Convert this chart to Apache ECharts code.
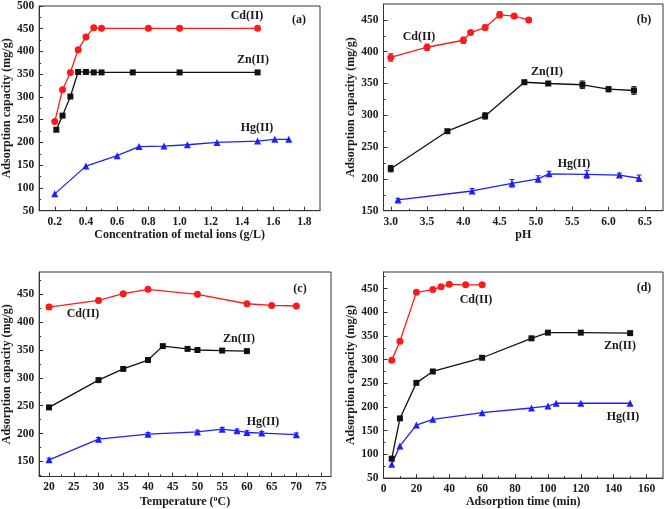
<!DOCTYPE html>
<html>
<head>
<meta charset="utf-8">
<script src="https://cdn.jsdelivr.net/npm/echarts@6/dist/echarts.min.js"></script>
<style>
  html, body { margin: 0; padding: 0; background: #fff; }
  #chart { width: 664px; height: 509px; }
</style>
</head>
<body>
<div id="chart"></div>
<script>
// (a) concentration of metal ions
var aCdX = [0.2, 0.25, 0.3, 0.35, 0.4, 0.45, 0.5, 0.8, 1.0, 1.5]
var aCdY = [246, 316, 354, 404, 432, 452, 451, 451, 451, 451]
var aZnX = [0.21, 0.25, 0.3, 0.35, 0.4, 0.45, 0.5, 0.7, 1.0, 1.5]
var aZnY = [228, 259, 301, 355, 355, 354, 354, 354, 354, 354]
var aHgX = [0.2, 0.4, 0.6, 0.74, 0.9, 1.05, 1.24, 1.5, 1.61, 1.7]
var aHgY = [87, 148, 171, 191, 192, 195, 200, 203, 207, 207]
var aXTicks = [0.2, 0.4, 0.6, 0.8, 1.0, 1.2, 1.4, 1.6, 1.8]
var aYTicks = [50, 100, 150, 200, 250, 300, 350, 400, 450, 500]

// (b) pH
var bCdX = [3.0, 3.5, 4.0, 4.1, 4.3, 4.5, 4.7, 4.9]
var bCdY = [391, 407, 418, 430, 438, 458, 456, 450]
var bCdErr = [6, 5, 5, 3, 4, 5, 3, 3]
var bZnX = [3.0, 3.78, 4.3, 4.84, 5.17, 5.64, 6.0, 6.35]
var bZnY = [216, 275, 299, 352, 350, 348, 341, 339]
var bZnErr = [5, 2, 5, 3, 3, 6, 4, 6]
var bHgX = [3.1, 4.12, 4.67, 5.03, 5.18, 5.7, 6.15, 6.42]
var bHgY = [167, 181, 193, 200, 208, 207, 206, 201]
var bHgErr = [2, 4, 6, 5, 4, 6, 3, 5]
var bXTicks = [3.0, 3.5, 4.0, 4.5, 5.0, 5.5, 6.0, 6.5]
var bYTicks = [150, 200, 250, 300, 350, 400, 450]

// (c) temperature
var cCdX = [20, 30, 35, 40, 50, 60, 65, 70]
var cCdY = [427, 439, 451, 459, 450, 433, 430, 429]
var cCdErr = [4, 4, 3, 3, 4, 3, 3, 3]
var cZnX = [20, 30, 35, 40, 43, 48, 50, 55, 60]
var cZnY = [247, 296, 316, 332, 357, 352, 350, 349, 348]
var cZnErr = [2, 2, 2, 4, 2, 2, 2, 2, 2]
var cHgX = [20, 30, 40, 50, 55, 58, 60, 63, 70]
var cHgY = [153, 190, 199, 203, 208, 205, 202, 201, 198]
var cHgErr = [3, 3, 3, 3, 3, 3, 3, 3, 3]
var cXTicks = [20, 25, 30, 35, 40, 45, 50, 55, 60, 65, 70, 75]
var cYTicks = [150, 200, 250, 300, 350, 400, 450]

// (d) adsorption time
var dCdX = [5, 10, 20, 30, 35, 40, 50, 60]
var dCdY = [299, 339, 442, 448, 454, 459, 458, 458]
var dZnX = [5, 10, 20, 30, 60, 90, 100, 120, 150]
var dZnY = [91, 176, 251, 275, 304, 345, 357, 357, 356]
var dHgX = [5, 10, 20, 30, 60, 90, 100, 105, 120, 150]
var dHgY = [79, 118, 162, 174, 188, 198, 202, 208, 208, 208]
var dXTicks = [0, 20, 40, 60, 80, 100, 120, 140, 160]
var dYTicks = [50, 100, 150, 200, 250, 300, 350, 400, 450]

var RED = '#ff1a1a', BLACK = '#111111', BLUE = '#1f1fff'
var FONT = 'Liberation Serif'

var chart = echarts.init(document.getElementById('chart'))

var grids = [
  { left: 38.5, top: 4, width: 281.5, height: 206.7 },
  { left: 383.5, top: 4, width: 279.5, height: 206.7 },
  { left: 39, top: 272, width: 292, height: 206.5 },
  { left: 383.5, top: 272, width: 279.5, height: 206.5 }
]
grids.forEach(function (g) {
  g.show = true
  g.borderColor = '#333'
  g.borderWidth = 1
  g.backgroundColor = 'transparent'
})

var xAxes = []
var yAxes = []

function minorsOf(ticks, min, max) {
  var step = ticks[1] - ticks[0]
  var out = []
  var first = ticks[0] - step / 2
  if (first > min) out.push(first)
  ticks.forEach(function (t) {
    var m = t + step / 2
    if (m < max) out.push(m)
  })
  return out
}

// adds main axis + minor tick axis, returns index of main axis
function addAxis(list, dim, gridIndex, min, max, ticks, digits, name, nameGap) {
  var main = {
    type: 'value',
    gridIndex: gridIndex,
    position: dim == 'x' ? 'bottom' : 'left',
    min: min,
    max: max,
    splitLine: { show: false },
    axisLine: { show: true, onZero: false, lineStyle: { color: '#333', width: 1 } },
    axisTick: {
      show: true,
      inside: true,
      length: 4,
      customValues: ticks,
      lineStyle: { color: '#333' }
    },
    axisLabel: {
      customValues: ticks,
      color: '#1a1a1a',
      fontFamily: FONT,
      fontWeight: 'bold',
      fontSize: 11.5,
      margin: 5,
      formatter: function (v) {
        return Number(v).toFixed(digits)
      }
    },
    name: name,
    nameLocation: 'middle',
    nameGap: nameGap,
    nameTextStyle: {
      color: '#1a1a1a',
      fontFamily: FONT,
      fontWeight: 'bold',
      fontSize: 12,
      rich: {
        sup: { fontSize: 8, fontFamily: FONT, fontWeight: 'bold', color: '#1a1a1a', padding: [0, 0, 7, 0] }
      }
    }
  }
  var minor = {
    type: 'value',
    gridIndex: gridIndex,
    position: dim == 'x' ? 'bottom' : 'left',
    min: min,
    max: max,
    splitLine: { show: false },
    axisLine: { show: false, onZero: false },
    axisLabel: { show: false },
    axisTick: {
      show: true,
      inside: true,
      length: 2,
      customValues: minorsOf(ticks, min, max),
      lineStyle: { color: '#333' }
    }
  }
  list.push(main)
  var idx = list.length - 1
  list.push(minor)
  return idx
}

var ax = [
  [addAxis(xAxes, 'x', 0, 0.1, 1.9, aXTicks, 1, 'Concentration of metal ions (g/L)', 18),
   addAxis(yAxes, 'y', 0, 50, 500, aYTicks, 0, 'Adsorption capacity (mg/g)', 23)],
  [addAxis(xAxes, 'x', 1, 2.9, 6.75, bXTicks, 1, 'pH', 18),
   addAxis(yAxes, 'y', 1, 150, 475, bYTicks, 0, 'Adsorption capacity (mg/g)', 26)],
  [addAxis(xAxes, 'x', 2, 18, 77, cXTicks, 0, 'Temperature ({sup|o}C)', 18),
   addAxis(yAxes, 'y', 2, 123, 490, cYTicks, 0, 'Adsorption capacity (mg/g)', 23)],
  [addAxis(xAxes, 'x', 3, 0, 170, dXTicks, 0, 'Adsorption time (min)', 16),
   addAxis(yAxes, 'y', 3, 50, 485, dYTicks, 0, 'Adsorption capacity (mg/g)', 26)]
]

function zip(xs, ys, es) {
  return xs.map(function (x, i) {
    return es ? [x, ys[i], es[i]] : [x, ys[i]]
  })
}

var series = []

function addLine(panel, xs, ys, color, symbol, size) {
  series.push({
    type: 'line',
    xAxisIndex: ax[panel][0],
    yAxisIndex: ax[panel][1],
    data: zip(xs, ys),
    symbol: symbol,
    symbolSize: size,
    showSymbol: true,
    lineStyle: { color: color, width: 1.3 },
    itemStyle: { color: color },
    z: 3,
    animation: false
  })
}

function addErr(panel, xs, ys, es, color) {
  series.push({
    type: 'custom',
    xAxisIndex: ax[panel][0],
    yAxisIndex: ax[panel][1],
    data: zip(xs, ys, es),
    z: 4,
    animation: false,
    renderItem: function (params, api) {
      var x = api.value(0)
      var y = api.value(1)
      var e = api.value(2)
      var lo = api.coord([x, y - e])
      var hi = api.coord([x, y + e])
      var style = { stroke: color, lineWidth: 1 }
      return {
        type: 'group',
        children: [
          { type: 'line', shape: { x1: lo[0], y1: lo[1], x2: hi[0], y2: hi[1] }, style: style },
          { type: 'line', shape: { x1: lo[0] - 2.5, y1: lo[1], x2: lo[0] + 2.5, y2: lo[1] }, style: style },
          { type: 'line', shape: { x1: hi[0] - 2.5, y1: hi[1], x2: hi[0] + 2.5, y2: hi[1] }, style: style }
        ]
      }
    }
  })
}

addLine(0, aCdX, aCdY, RED, 'circle', 7)
addLine(0, aZnX, aZnY, BLACK, 'rect', 6)
addLine(0, aHgX, aHgY, BLUE, 'triangle', 7)

addLine(1, bCdX, bCdY, RED, 'circle', 7)
addLine(1, bZnX, bZnY, BLACK, 'rect', 6)
addLine(1, bHgX, bHgY, BLUE, 'triangle', 7)
addErr(1, bCdX, bCdY, bCdErr, RED)
addErr(1, bZnX, bZnY, bZnErr, BLACK)
addErr(1, bHgX, bHgY, bHgErr, BLUE)

addLine(2, cCdX, cCdY, RED, 'circle', 7)
addLine(2, cZnX, cZnY, BLACK, 'rect', 6)
addLine(2, cHgX, cHgY, BLUE, 'triangle', 7)
addErr(2, cCdX, cCdY, cCdErr, RED)
addErr(2, cZnX, cZnY, cZnErr, BLACK)
addErr(2, cHgX, cHgY, cHgErr, BLUE)

addLine(3, dCdX, dCdY, RED, 'circle', 7)
addLine(3, dZnX, dZnY, BLACK, 'rect', 6)
addLine(3, dHgX, dHgY, BLUE, 'triangle', 7)

// panel letters and species labels
var notes = [
  ['(a)', 299, 20], ['Cd(II)', 247, 16], ['Zn(II)', 253, 60], ['Hg(II)', 257, 128],
  ['(b)', 644, 20], ['Cd(II)', 419, 37], ['Zn(II)', 547, 72], ['Hg(II)', 574, 164],
  ['(c)', 300, 289], ['Cd(II)', 83, 314], ['Zn(II)', 239, 339], ['Hg(II)', 263, 422],
  ['(d)', 644, 288], ['Cd(II)', 476, 300], ['Zn(II)', 620, 346], ['Hg(II)', 623, 417]
]

var graphic = notes.map(function (n) {
  return {
    type: 'text',
    x: n[1],
    y: n[2],
    z: 10,
    style: {
      text: n[0],
      fontFamily: FONT,
      fontWeight: 'bold',
      fontSize: 12,
      fill: '#1a1a1a',
      align: 'center',
      verticalAlign: 'middle'
    }
  }
})

chart.setOption({
  animation: false,
  backgroundColor: '#ffffff',
  grid: grids,
  xAxis: xAxes,
  yAxis: yAxes,
  series: series,
  graphic: graphic
})
</script>
</body>
</html>
